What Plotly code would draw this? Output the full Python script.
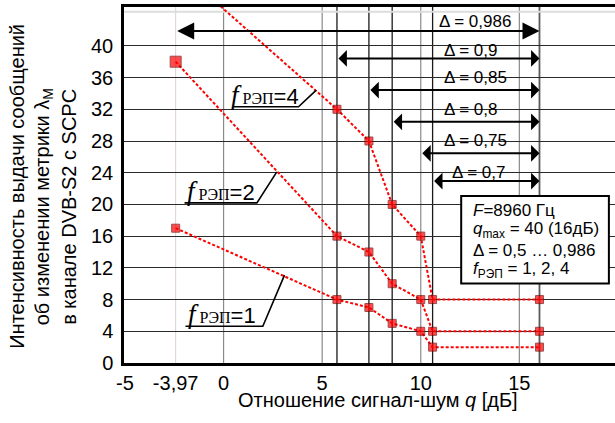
import plotly.graph_objects as go

# --- data ---
# the -3.97 dB column is drawn at about -2.43 on the linear axis in the source, keep that position
snr = [-2.43, 5.75, 7.37, 8.55, 10.0, 10.6, 16.02]
rate_f1 = [17, 8, 7, 5, 4, 2, 2]
rate_f2 = [38, 16, 14, 10, 8, 4, 4]
rate_f4 = [50, 32, 28, 20, 16, 8, 8]   # first point lies above the top of the chart

x_tickvals = [-5, -2.43, 0, 5, 10, 15]
x_ticktext = ["-5", "-3,97", "0", "5", "10", "15"]
y_tickvals = [0, 4, 8, 12, 16, 20, 24, 28, 32, 36, 40]

major_x = [0, 5, 10, 15]
threshold_x = [5.75, 7.37, 8.55, 10.6]
qmax_x = 16.02

delta_text = ["0,986", "0,9", "0,85", "0,8", "0,75", "0,7"]
delta_from = [-2.43, 5.75, 7.37, 8.55, 10.0, 10.6]
delta_y = [41.87, 38.42, 34.42, 30.42, 26.44, 22.94]

SANS = "Liberation Sans, Arial, sans-serif"
SERIF = "Liberation Serif, serif"
RED = "#ff0000"

fig = go.Figure()

for name, vals in [("f=1", rate_f1), ("f=2", rate_f2), ("f=4", rate_f4)]:
    sizes = [8] * len(vals)
    if name == "f=2":
        sizes[0] = 11
    fig.add_trace(go.Scatter(
        x=snr, y=vals, mode="lines+markers", name=name,
        line=dict(color=RED, width=2, dash="3px,2px"),
        marker=dict(symbol="square", size=sizes, color=RED,
                    line=dict(color="#7a0000", width=1)),
        showlegend=False,
    ))

# vertical lines
fig.add_shape(type="line", x0=-2.43, x1=-2.43, y0=0, y1=1, yref="paper",
              line=dict(color="#dccfd3", width=1), layer="between")
for xv in major_x:
    fig.add_shape(type="line", x0=xv, x1=xv, y0=0, y1=1, yref="paper",
                  line=dict(color="#8a8a8a", width=1.2), layer="between")
for xv in threshold_x:
    fig.add_shape(type="line", x0=xv, x1=xv, y0=0, y1=1, yref="paper",
                  line=dict(color="#1a1a1a", width=1.3), layer="between")
fig.add_shape(type="line", x0=qmax_x, x1=qmax_x, y0=0, y1=1, yref="paper",
              line=dict(color="#5a5a5a", width=1.8), layer="between")
fig.add_shape(type="line", x0=0, x1=1, xref="paper", y0=44.3, y1=44.3,
              line=dict(color="#dddddd", width=2), layer="between")

# delta arrows
for i, (x0, yv) in enumerate(zip(delta_from, delta_y)):
    big = i == 0
    fig.add_annotation(
        x=qmax_x, y=yv, ax=x0, ay=yv, xref="x", yref="y",
        axref="x", ayref="y", text="", showarrow=True,
        arrowhead=2 if big else 1, startarrowhead=2 if big else 1,
        arrowsize=1.7 if big else 1.4, startarrowsize=1.7 if big else 1.4,
        arrowwidth=2, arrowcolor="black", arrowside="end+start",
        font=dict(size=1),
    )

delta_lx = [12.77, 12.52, 12.75, 12.51, 12.75, 12.93]
delta_ly = [43.04, 39.47, 36.06, 32.03, 28.12, 24.08]
for txt, lx, ly in zip(delta_text, delta_lx, delta_ly):
    fig.add_annotation(x=lx, y=ly, text="Δ = " + txt, showarrow=False,
                       font=dict(family=SANS, size=17, color="black"))

# curve labels with underline leaders
def curve_label(n, tx, ty, ux0, ux1, uy, ex, ey):
    txt = (f'<span style="font-family:{SERIF};font-size:27px"><i>f</i></span>'
           f'<span style="font-family:{SERIF};font-size:16px"> РЭП</span>={n}')
    fig.add_annotation(x=tx, y=ty, text=txt, showarrow=False,
                       font=dict(family=SANS, size=22, color="black"))
    fig.add_shape(type="path", path=f"M {ux0},{uy} L {ux1},{uy} L {ex},{ey}",
                  line=dict(color="black", width=1.6), layer="above")

curve_label(4, 2.08, 33.79, 0.47, 3.80, 32.32, 4.70, 34.42)
curve_label(2, -0.15, 21.74, -1.98, 1.69, 20.20, 2.70, 24.11)
curve_label(1, -0.06, 6.16, -1.93, 1.99, 4.64, 3.09, 11.08)

# parameter box
fig.add_shape(type="rect", x0=12.05, x1=19.54, y0=10.04, y1=21.06,
              fillcolor="white", line=dict(color="black", width=2), layer="above")
box_lines = ["<i>F</i>=8960 Гц",
             "<i>q</i><sub>max</sub> = 40 (16дБ)",
             "Δ = 0,5 … 0,986",
             "<i>f</i><sub>РЭП</sub> = 1, 2, 4"]
box_y = [19.2, 16.75, 14.2, 11.77]
for t, by in zip(box_lines, box_y):
    fig.add_annotation(x=12.56, y=by, text=t, showarrow=False, xanchor="left",
                       font=dict(family=SANS, size=17, color="black"))

# axis titles
fig.add_annotation(x=7.83, y=-0.104, yref="paper", yanchor="middle",
                   text="Отношение сигнал-шум <i>q</i> [дБ]",
                   showarrow=False, font=dict(family=SANS, size=20, color="black"))
ytitle = ["Интенсивность выдачи сообщений",
          "об изменении метрики λ<sub>M</sub>",
          "в канале DVB-S2 с SCPC"]
for t, px, py in zip(ytitle, [-0.245, -0.194, -0.139], [0.497, 0.438, 0.438]):
    fig.add_annotation(x=px, y=py, xref="paper", yref="paper", text=t, textangle=-90,
                       xanchor="left", yanchor="middle",
                       showarrow=False, font=dict(family=SANS, size=20, color="black"))

fig.update_xaxes(range=[-5.05, 19.85], tickvals=x_tickvals, ticktext=x_ticktext,
                 showgrid=False, zeroline=False, showline=True, linewidth=2.5,
                 linecolor="black", mirror=True, ticks="", ticklabelstandoff=0,
                 tickfont=dict(family=SANS, size=20, color="black"))
fig.update_yaxes(range=[0, 44.9], tickvals=y_tickvals, showgrid=True,
                 gridcolor="#2a2a2a", gridwidth=1.2, zeroline=False, showline=True,
                 linewidth=2.5, linecolor="black", ticks="", ticklabelstandoff=4,
                 tickfont=dict(family=SANS, size=20, color="black"))

fig.update_layout(width=615, height=423, margin=dict(l=124, r=0, t=7, b=60),
                  plot_bgcolor="white", paper_bgcolor="white",
                  font=dict(family=SANS, color="black"))

# the page's default body margin would shift the chart by 8px
fig.write_html("out.html", config={"displayModeBar": False},
               post_script="document.body.style.margin='0';")
